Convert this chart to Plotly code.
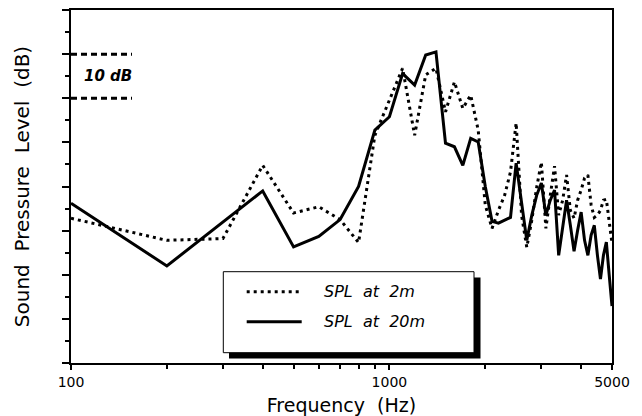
import plotly.graph_objects as go

# ---------------- data ----------------
freq_2m = [100, 200, 300, 400, 500, 600, 700, 800, 900, 1000, 1100, 1200, 1300, 1400,
           1500, 1600, 1700, 1800, 1900, 2000, 2100, 2200, 2300, 2400, 2500, 2600, 2700,
           2800, 2900, 3000, 3100, 3200, 3300, 3400, 3500, 3600, 3700, 3800, 3900, 4000,
           4100, 4200, 4300, 4400, 4500, 4600, 4700, 4800, 4900, 5000]
spl_2m = [32.8, 27.8, 28.2, 44.8, 34.0, 35.4, 32.5, 27.3, 51.6, 59.6, 66.8, 51.6, 65.3, 66.8,
          56.9, 63.7, 57.7, 60.7, 52.8, 35.8, 30.5, 34.6, 38.0, 43.3, 54.4, 33.5, 26.2,
          32.4, 39.8, 45.5, 30.5, 38.0, 44.6, 33.5, 36.9, 42.6, 34.6, 32.8, 36.9, 39.2,
          41.9, 42.6, 35.8, 33.0, 33.5, 34.6, 36.9, 37.1, 32.4, 27.1]

freq_20m = [100, 200, 400, 500, 600, 700, 800, 900, 1000, 1100, 1200, 1300, 1400,
            1500, 1600, 1700, 1800, 1900, 2000, 2100, 2200, 2300, 2400, 2500, 2600, 2700,
            2800, 2900, 3000, 3100, 3200, 3300, 3400, 3500, 3600, 3700, 3800, 3900, 4000,
            4100, 4200, 4300, 4400, 4500, 4600, 4700, 4800, 4900, 5000]
spl_20m = [36.2, 22.0, 39.0, 26.3, 28.7, 32.5, 40.0, 52.8, 55.8, 65.6, 63.0, 69.8, 70.5,
           49.8, 49.0, 44.8, 50.9, 50.1, 40.0, 32.1, 31.7, 32.4, 33.0, 45.3, 36.9, 27.8,
           33.5, 38.0, 40.8, 33.5, 36.9, 39.2, 24.4, 31.2, 36.9, 31.2, 25.3, 30.1, 34.2,
           27.8, 24.4, 29.0, 31.2, 24.4, 19.0, 24.4, 27.4, 19.9, 12.9]

series_names = ["SPL  at  2m", "SPL  at  20m"]
x_tick_vals = [100, 1000, 5000]
x_tick_text = ["100", "1000", "5000"]
x_minor_vals = [200, 300, 400, 500, 600, 700, 800, 900, 2000, 3000, 4000]
y_major_vals = [0, 10, 20, 30, 40, 50, 60, 70, 80]
y_minor_vals = [5, 15, 25, 35, 45, 55, 65, 75]
scale_bar_levels = [60, 70]
scale_bar_label = "10 dB"

# ---------------- layout geometry ----------------
# the page places the figure 8 px from the top-left corner of the window
OFF = 8
W, H = 642 - OFF, 416 - OFF
ML, MR, MT, MB = 71 - OFF, 30, 10 - OFF, 53
PW, PH = W - ML - MR, H - MT - MB
FONT = "DejaVu Sans"


def px(xpix):
    """window pixel x -> paper fraction"""
    return (xpix - OFF - ML) / PW


def py(ypix):
    """window pixel y -> paper fraction"""
    return (H - MB - (ypix - OFF)) / PH


fig = go.Figure()
fig.add_trace(go.Scatter(x=freq_2m, y=spl_2m, mode="lines", name=series_names[0],
                         line=dict(color="black", width=3, dash="3px,4px"),
                         showlegend=False))
fig.add_trace(go.Scatter(x=freq_20m, y=spl_20m, mode="lines", name=series_names[1],
                         line=dict(color="black", width=3),
                         showlegend=False))

shapes = []
# 10 dB scale bar
for lvl in scale_bar_levels:
    shapes.append(dict(type="line", xref="paper", yref="y", x0=0, x1=px(132), y0=lvl, y1=lvl,
                       line=dict(color="black", width=3, dash="6px,4px")))
# legend box with drop shadow
shapes.append(dict(type="rect", xref="paper", yref="paper", x0=px(229), x1=px(480.5),
                   y0=py(358.5), y1=py(277.5), fillcolor="black", line=dict(width=0), layer="above"))
shapes.append(dict(type="rect", xref="paper", yref="paper", x0=px(223.3), x1=px(474),
                   y0=py(352.7), y1=py(271.7), fillcolor="white",
                   line=dict(color="black", width=1), layer="above"))
shapes.append(dict(type="line", xref="paper", yref="paper", x0=px(246.7), x1=px(301.7),
                   y0=py(291.7), y1=py(291.7), line=dict(color="black", width=3, dash="3px,4px"),
                   layer="above"))
shapes.append(dict(type="line", xref="paper", yref="paper", x0=px(246.7), x1=px(301.7),
                   y0=py(321.7), y1=py(321.7), line=dict(color="black", width=3), layer="above"))

annotations = [
    dict(text="<b><i>" + scale_bar_label + "</i></b>", xref="paper", yref="y", x=px(82),
         y=sum(scale_bar_levels) / 2, xanchor="left", yanchor="middle", showarrow=False,
         font=dict(family=FONT, size=15, color="black")),
    dict(text="<i>" + series_names[0] + "</i>", xref="paper", yref="paper", x=px(322),
         y=py(291.7), xanchor="left", yanchor="middle", showarrow=False,
         font=dict(family=FONT, size=16, color="black")),
    dict(text="<i>" + series_names[1] + "</i>", xref="paper", yref="paper", x=px(322),
         y=py(321.7), xanchor="left", yanchor="middle", showarrow=False,
         font=dict(family=FONT, size=16, color="black")),
]

fig.update_layout(
    width=W, height=H,
    margin=dict(l=ML, r=MR, t=MT, b=MB, pad=0),
    paper_bgcolor="white", plot_bgcolor="white",
    font=dict(family=FONT, color="black"),
    shapes=shapes, annotations=annotations,
    xaxis=dict(
        type="log", range=[2, 3.69897], showgrid=False, zeroline=False,
        showline=True, linecolor="black", linewidth=2, mirror=True,
        ticks="outside", ticklen=5, tickwidth=2, tickcolor="black",
        tickmode="array", tickvals=x_tick_vals, ticktext=x_tick_text,
        tickfont=dict(family=FONT, size=14, color="black"),
        minor=dict(tickmode="array", tickvals=x_minor_vals, ticks="outside",
                   ticklen=4, tickwidth=2, tickcolor="black", showgrid=False),
        title=dict(text="Frequency  (Hz)", font=dict(family=FONT, size=19, color="black"),
                   standoff=10),
        automargin=False,
    ),
    yaxis=dict(
        range=[0, 80], showgrid=False, zeroline=False,
        showline=True, linecolor="black", linewidth=2, mirror=True,
        ticks="outside", ticklen=7, tickwidth=2, tickcolor="black",
        tickmode="array", tickvals=y_major_vals, showticklabels=False,
        minor=dict(tickmode="array", tickvals=y_minor_vals, ticks="outside",
                   ticklen=4, tickwidth=2, tickcolor="black", showgrid=False),
        title=dict(text="Sound  Pressure  Level  (dB)",
                   font=dict(family=FONT, size=20, color="black"), standoff=27),
        automargin=False,
    ),
)

fig.write_html("out.html")
